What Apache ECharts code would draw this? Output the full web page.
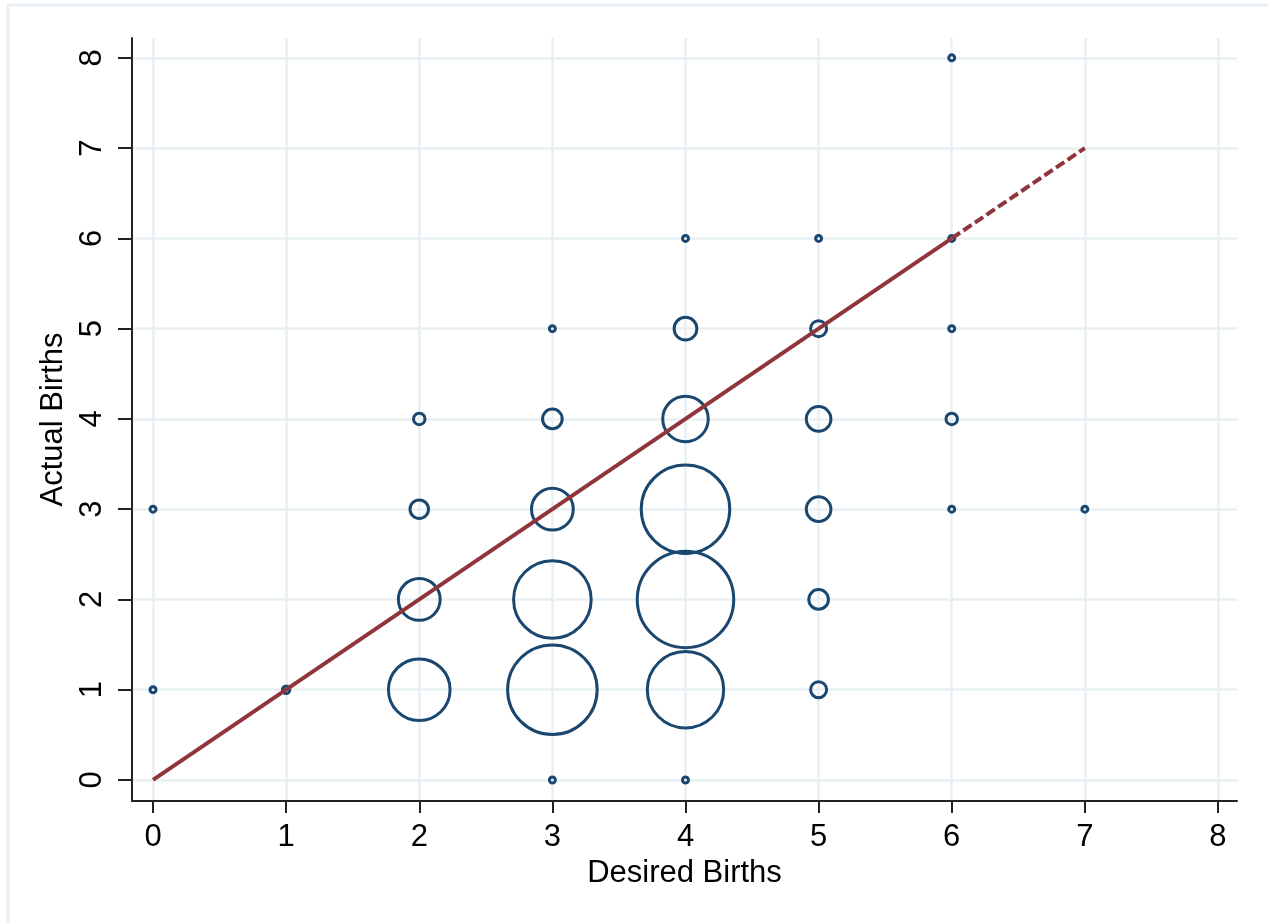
<!DOCTYPE html>
<html>
<head>
<meta charset="utf-8">
<script src="https://cdn.jsdelivr.net/npm/echarts@6/dist/echarts.min.js"></script>
<style>
  html, body { margin: 0; padding: 0; background: #fff; }
  #main { width: 1268px; height: 923px; }
</style>
</head>
<body>
<div id="main"></div>
<script>
// desired vs actual births, marker area ~ frequency
var desired = [0, 0, 1, 2, 2, 2, 2, 3, 3, 3, 3, 3, 3, 4, 4, 4, 4, 4, 4, 4, 5, 5, 5, 5, 5, 5, 6, 6, 6, 6, 6, 7];
var actual  = [1, 3, 1, 1, 2, 3, 4, 0, 1, 2, 3, 4, 5, 0, 1, 2, 3, 4, 5, 6, 1, 2, 3, 4, 5, 6, 3, 4, 5, 6, 8, 3];
var counts  = [1, 1, 2, 84, 40, 9, 4, 1, 173, 131, 40, 10, 1, 1, 127, 200, 169, 47, 13, 1, 7, 10, 15, 15, 7, 1, 1, 4, 1, 1, 1, 1];

// line of equality (solid part, then dashed end)
var lineSolidX = [0, 6];
var lineSolidY = [0, 6];
var lineDashX = [6, 7];
var lineDashY = [6, 7];

var ticks = [0, 1, 2, 3, 4, 5, 6, 7, 8];

var navy = '#1a476f';
var maroon = '#90353b';
var gridColor = '#e8f0f3';

var chart = echarts.init(document.getElementById('main'), null, {renderer: 'canvas'});

var pts = [];
for (var i = 0; i < desired.length; i++) {
  pts.push([desired[i], actual[i], counts[i]]);
}
function pairs(xs, ys) {
  var out = [];
  for (var i = 0; i < xs.length; i++) out.push([xs[i], ys[i]]);
  return out;
}

var fontFam = 'Liberation Sans, Arial, sans-serif';
var axisFont = {fontFamily: fontFam, fontSize: 31, color: '#000'};

chart.setOption({
  animation: false,
  backgroundColor: '#fff',
  graphic: [{
    type: 'rect',
    shape: {x: 8, y: 5, width: 1262, height: 930},
    style: {fill: 'none', stroke: gridColor, lineWidth: 3},
    silent: true
  }],
  grid: {left: 132, right: 31, top: 38, bottom: 122},
  xAxis: {
    type: 'value',
    min: -0.158,
    max: 8.143,
    name: 'Desired Births',
    nameLocation: 'middle',
    nameGap: 49,
    nameTextStyle: axisFont,
    axisLine: {show: true, onZero: false, lineStyle: {color: '#222', width: 2}},
    axisTick: {show: true, length: 12, customValues: ticks, lineStyle: {color: '#222', width: 2}},
    axisLabel: {customValues: ticks, margin: 21, fontFamily: fontFam, fontSize: 31, color: '#000'},
    splitLine: {show: true, lineStyle: {color: gridColor, width: 2.5}}
  },
  yAxis: {
    type: 'value',
    min: -0.233,
    max: 8.22,
    name: 'Actual Births',
    nameLocation: 'middle',
    nameGap: 55,
    nameTextStyle: axisFont,
    axisLine: {show: true, onZero: false, lineStyle: {color: '#222', width: 2}},
    axisTick: {show: true, length: 14, customValues: ticks, lineStyle: {color: '#222', width: 2}},
    axisLabel: {customValues: ticks, rotate: 90, margin: 24, fontFamily: fontFam, fontSize: 31, color: '#000'},
    splitLine: {show: true, lineStyle: {color: gridColor, width: 2.5}}
  },
  series: [
    {
      type: 'scatter',
      data: pts,
      symbol: 'circle',
      symbolSize: function (v) { return Math.max(6, 7 * Math.sqrt(v[2]) - 2.5); },
      itemStyle: {color: 'rgba(0,0,0,0)', borderColor: navy, borderWidth: 3, opacity: 1},
      z: 2
    },
    {
      type: 'line',
      data: pairs(lineSolidX, lineSolidY),
      showSymbol: false,
      symbol: 'none',
      lineStyle: {color: maroon, width: 4},
      z: 3
    },
    {
      type: 'line',
      data: pairs(lineDashX, lineDashY),
      showSymbol: false,
      symbol: 'none',
      lineStyle: {color: maroon, width: 4, type: [10, 4]},
      z: 3
    }
  ]
});
</script>
</body>
</html>
